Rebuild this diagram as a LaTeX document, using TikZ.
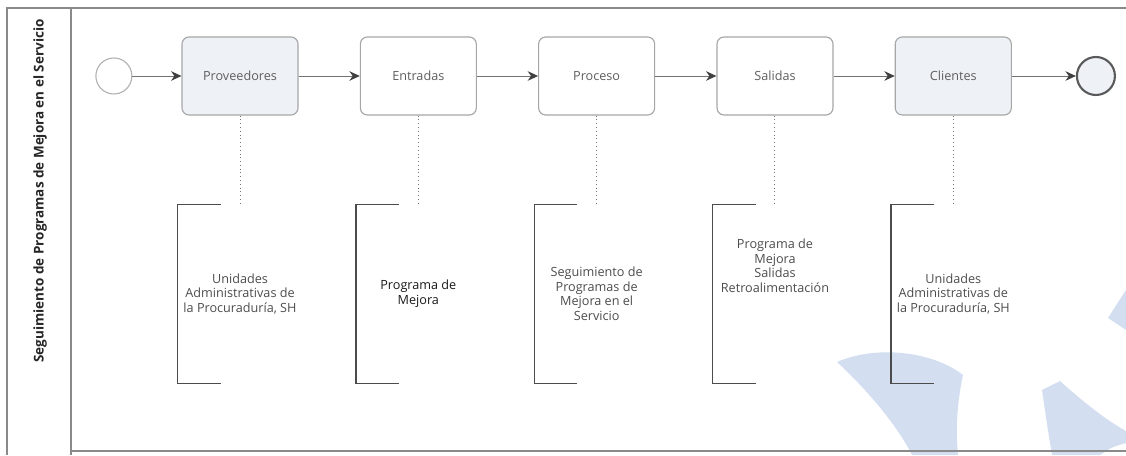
\documentclass[tikz,border=0pt]{standalone}
\usepackage{fontspec}
\setmainfont{Open Sans}
\usetikzlibrary{positioning,arrows.meta}

\definecolor{lineGray}{HTML}{8A8A8A}
\definecolor{taskFill}{HTML}{EEF2F7}
\definecolor{textGray}{HTML}{5E5E5E}
\definecolor{markBlue}{HTML}{D3DEF0}

\tikzset{
  task/.style={draw=black!35, line width=0.8pt, rounded corners=5pt,
    minimum width=2.9cm, minimum height=1.95cm,
    font=\fontsize{9}{10}\selectfont, text=textGray},
  event/.style={circle, draw=black!30, line width=0.8pt, fill=white,
    minimum size=0.9cm, inner sep=0pt},
  endevent/.style={circle, draw=black!65, line width=1.5pt, fill=taskFill,
    minimum size=0.95cm, inner sep=0pt},
  flow/.style={draw=black!55, line width=0.7pt,
    -{Stealth[length=2.6mm,width=2.4mm,color=black!75]}},
  assoc/.style={draw=black!55, dotted, line width=0.7pt},
  annot/.style={minimum width=3.1cm, minimum height=4.45cm, inner sep=0pt},
  bracket/.style={draw=black!70, line width=0.8pt},
  notetext/.style={align=center, font=\fontsize{9}{10.5}\selectfont, text=black!70},
  pool/.style={draw=lineGray, line width=0.8pt}
}

\begin{document}
\begin{tikzpicture}
\useasboundingbox (0,0) rectangle (28.15,11.375);

% blue marks behind the lane
\fill[markBlue] (20.925,2.325) .. controls (21.9,2.75) and (23.3,2.6) .. (24.075,2.0)
  .. controls (23.9,1.2) and (23.9,0.5) .. (23.95,0) -- (22.8,0)
  .. controls (22.4,0.8) and (21.6,1.7) .. cycle;
\fill[markBlue] (26.05,1.625) -- (26.5,1.85) .. controls (27.0,1.4) and (27.6,0.9) .. (28.15,0.6)
  -- (28.15,0.3) .. controls (27.8,0.2) .. (27.5,0) -- (26.3,0) .. controls (26.2,0.6) .. cycle;
\fill[markBlue] (28.15,4.125) -- (27.7,3.425) -- (28.15,3.125) -- cycle;

% pool and lane
\draw[pool] (28.15,11.175) -| (0.175,0);
\draw[pool] (1.775,11.175) -- (1.775,0);
\draw[pool] (1.775,0.1) -- (28.15,0.1);
\node[rotate=90, font=\fontsize{9.6}{10}\selectfont\bfseries, text=black!85] (lane) at (1.0,6.6)
  {Seguimiento de Programas de Mejora en el Servicio};

% tasks
\node[task, fill=taskFill] (prov) at (6.0,9.475) {Proveedores};
\node[task, fill=white, right=1.53cm of prov] (entr) {Entradas};
\node[task, fill=white, right=1.53cm of entr] (proc) {Proceso};
\node[task, fill=white, right=1.53cm of proc] (sal) {Salidas};
\node[task, fill=taskFill, right=1.53cm of sal] (cli) {Clientes};

% events
\node[event, left=1.225cm of prov] (start) {};
\node[endevent, right=1.6cm of cli] (finish) {};

% sequence flows
\foreach \a/\b in {start/prov, prov/entr, entr/proc, proc/sal, sal/cli, cli/finish}
  \draw[flow] (\a) -- (\b);

% annotations
\foreach \t/\n in {prov/1, entr/2, proc/3, sal/4, cli/5} {
  \node[annot, below=2.225cm of \t] (ann\n) {};
  \draw[assoc] (\t) -- (ann\n);
  \draw[bracket] ([xshift=1.075cm]ann\n.north west) -- (ann\n.north west)
    -- (ann\n.south west) -- ([xshift=1.075cm]ann\n.south west);
}

\node[notetext] (txt1) at (ann1) {Unidades\\Administrativas de\\la Procuraduría, SH};
\node[notetext, text=black!90] (txt2) at (ann2) {Programa de\\Mejora};
\node[notetext] (txt3) at (ann3) {Seguimiento de\\Programas de\\Mejora en el\\Servicio};
\node[notetext] (txt4) at ([yshift=0.7cm]ann4.center) {Programa de\\Mejora\\Salidas\\Retroalimentación};
\node[notetext] (txt5) at (ann5) {Unidades\\Administrativas de\\la Procuraduría, SH};
\end{tikzpicture}
\end{document}
